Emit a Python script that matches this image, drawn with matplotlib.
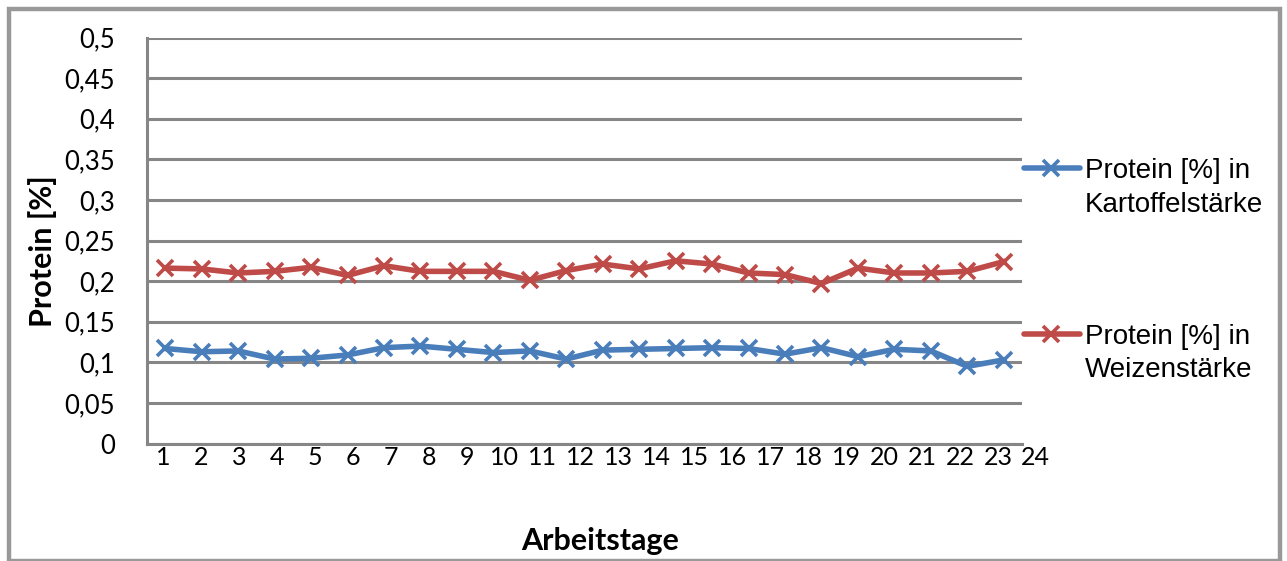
"""Protein content of potato and wheat starch over the working days."""
import matplotlib
matplotlib.use("Agg")
import matplotlib.pyplot as plt
from matplotlib.lines import Line2D
from matplotlib.patches import Rectangle
from matplotlib.ticker import FuncFormatter
import numpy as np

W, H = 1287, 561

days = list(range(1, 25))
day_labels = [str(d) for d in range(1, 25)]

kartoffel = [0.117, 0.113, 0.114, 0.104, 0.105, 0.109, 0.118, 0.120, 0.116, 0.112,
             0.114, 0.104, 0.115, 0.116, 0.117, 0.118, 0.117, 0.110, 0.118, 0.107,
             0.116, 0.114, 0.095, 0.103]
weizen = [0.216, 0.215, 0.210, 0.212, 0.217, 0.207, 0.219, 0.212, 0.212, 0.212,
          0.201, 0.213, 0.221, 0.215, 0.225, 0.221, 0.210, 0.208, 0.197, 0.216,
          0.210, 0.210, 0.212, 0.224]

series = [
    ("Protein [%] in\nKartoffelstärke", kartoffel, "#4a7ebb"),
    ("Protein [%] in\nWeizenstärke", weizen, "#be4b48"),
]

GRID = "#868686"
LABEL_FONT = ["Lato", "DejaVu Sans"]
LEGEND_FONT = ["Liberation Sans", "DejaVu Sans"]


def fx(px):
    return px / W


def fy(py):
    return 1 - py / H


fig = plt.figure(figsize=(W / 100, H / 100), dpi=100)
ax = fig.add_axes([fx(147), fy(443.5), fx(1022) - fx(147), fy(37.5) - fy(443.5)])

for label, vals, color in series:
    ax.plot(days, vals, color=color, lw=4, marker="x", ms=12, mew=2.6,
            solid_joinstyle="round", zorder=3)

ax.set_xlim(0.5, 24.5)
ax.set_ylim(0, 0.5)
ax.set_yticks(np.arange(0, 0.51, 0.05))
ax.yaxis.set_major_formatter(FuncFormatter(lambda v, _: f"{v:g}".replace(".", ",")))
ax.set_xticks([])

# day labels sit on a slightly wider pitch than the points and run past the axis end
label_pos = np.linspace(0.94, 24.88, len(day_labels))
for x, lab in zip(label_pos, day_labels):
    ax.text(x, -0.006, lab, transform=ax.get_xaxis_transform(), ha="center", va="top",
            family=LABEL_FONT, fontsize=18, clip_on=False)

ax.grid(axis="y", color=GRID, lw=2.2, zorder=1)
ax.set_axisbelow(True)
for side in ("top", "right"):
    ax.spines[side].set_visible(False)
for side in ("left", "bottom"):
    ax.spines[side].set_color(GRID)
    ax.spines[side].set_linewidth(2.2)

ax.tick_params(axis="y", length=0, pad=23)
for t in ax.get_yticklabels():
    t.set_family(LABEL_FONT)
    t.set_fontsize(18.5)

fig.text(fx(600), fy(541), "Arbeitstage", ha="center", va="center",
         family=LABEL_FONT, fontsize=22, fontweight="bold")
fig.text(fx(43), fy(251), "Protein [%]", ha="center", va="center", rotation=90,
         family=LABEL_FONT, fontsize=22, fontweight="bold")

# legend on the right, handle level with the first text line
for (label, vals, color), y in zip(series, (168, 333.5)):
    fig.add_artist(Line2D([fx(1024), fx(1080)], [fy(y), fy(y)], color=color,
                          lw=4, solid_capstyle="round"))
    fig.add_artist(Line2D([fx(1051)], [fy(y)], color=color, marker="x",
                          ms=12, mew=2.6))
    for i, line in enumerate(label.split("\n")):
        fig.text(fx(1085), fy(y + 10.5 + 33 * i), line, ha="left", va="baseline",
                 family=LEGEND_FONT, fontsize=20)

# outer chart frame; its lower edge falls on the image border
fig.add_artist(Rectangle((fx(9), fy(561)), fx(1279.5) - fx(9), fy(9) - fy(561),
                         transform=fig.transFigure, fill=False, edgecolor="#999999",
                         lw=3.2, clip_on=False))

fig.savefig("out.png", dpi=100, facecolor="white")
